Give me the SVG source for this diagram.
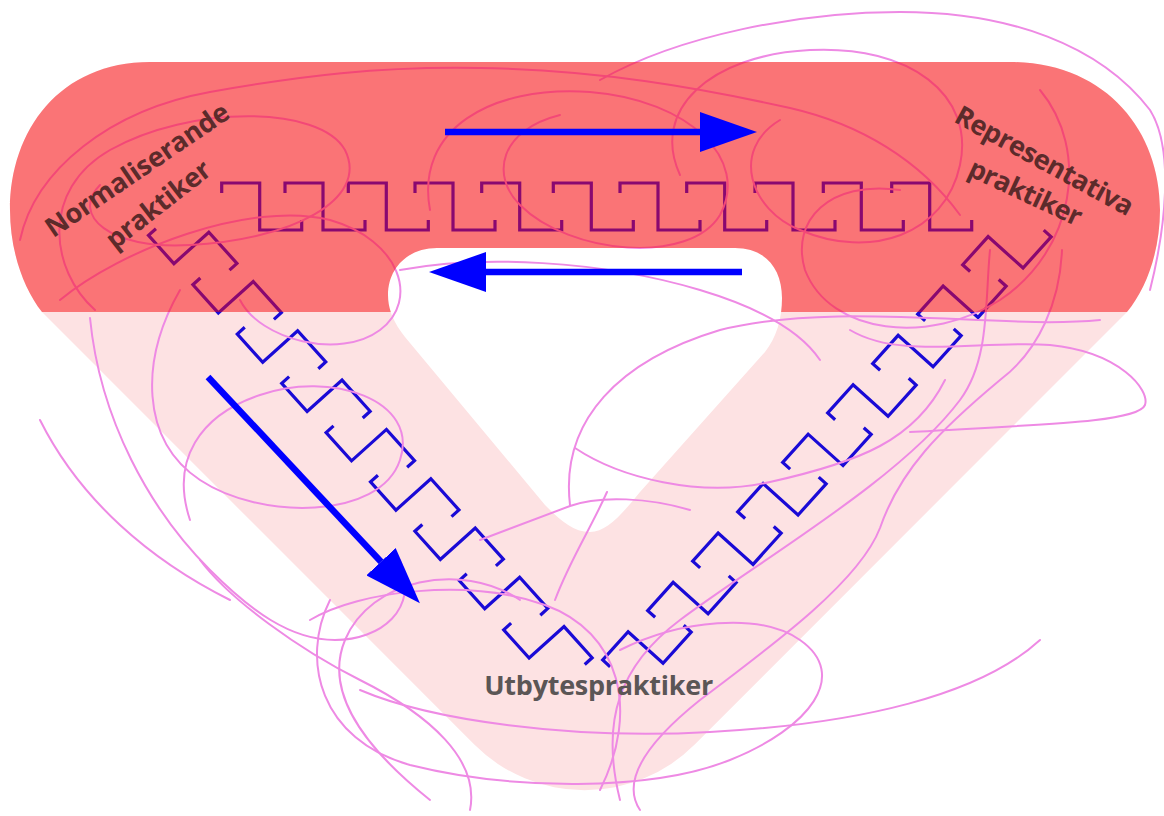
<svg xmlns="http://www.w3.org/2000/svg" xmlns:xlink="http://www.w3.org/1999/xlink" width="1164" height="816" viewBox="0 0 1164 816">
  <style>
    .mq{fill:none;stroke:#1a0ad6;stroke-width:3.2;stroke-linejoin:miter}
    .scr{fill:none;stroke:#ee8ae4;stroke-width:2;stroke-linecap:round}
    .arw{fill:none;stroke:#0000ff;stroke-width:6.5}
    .lbl{font-family:"Open Sans","DejaVu Sans",sans-serif;font-weight:700;font-size:27px;text-anchor:middle}
    .top{fill:#5c2b2b}
    .bot{fill:#5b5656}
  </style>
  <defs>
    <!-- rounded triangular band with its inner opening -->
    <path id="band" fill-rule="evenodd" d="M150 62 H1010 C1105 62 1160 130 1160 210 C1160 250 1147 288 1127 312 L694.7 744.5 A155.8 155.8 0 0 1 474.3 744.5 L42 312 C23 288 10 250 10 210 C10 130 60 62 150 62 Z M437 248 H735 C765 248 782 268 782 298 C782 320 776 338 765 352 L640 492 C622 514 607 532 590 532 C573 532 560 520 545 505 L405 337 C394 323 388 310 388 295 C388 268 408 248 437 248 Z"/>
    <clipPath id="topClip"><rect x="0" y="0" width="1164" height="312"/></clipPath>
    <!-- one key of the meander -->
    <path id="mu" d="M0 10V0H38V47H80V37"/>
    <marker id="head" markerUnits="userSpaceOnUse" markerWidth="58" markerHeight="40" refX="0" refY="20" orient="auto">
      <path d="M0 0 L57 20 L0 40 Z" fill="#0000ff"/>
    </marker>
  </defs>

  <!-- pale band -->
  <g id="band-base">
    <use href="#band" fill="#fde2e3"/>
  </g>

  <!-- meanders along the three sides -->
  <g id="meanders" class="mq">
    <use href="#mu" transform="translate(221.7 183)"/>
    <use href="#mu" transform="translate(285 183)"/>
    <use href="#mu" transform="translate(348.3 183)"/>
    <use href="#mu" transform="translate(415 183)"/>
    <use href="#mu" transform="translate(481.7 183)"/>
    <use href="#mu" transform="translate(553.3 183)"/>
    <use href="#mu" transform="translate(620 183)"/>
    <use href="#mu" transform="translate(686.7 183)"/>
    <use href="#mu" transform="translate(755 183)"/>
    <use href="#mu" transform="translate(823.3 183)"/>
    <use href="#mu" transform="translate(891.7 183)"/>

    <use href="#mu" transform="matrix(0.669 0.743 0.743 -0.669 148.5 235.4)"/>
    <use href="#mu" transform="matrix(0.669 0.743 0.743 -0.669 192.9 284.7)"/>
    <use href="#mu" transform="matrix(0.669 0.743 0.743 -0.669 237.3 334)"/>
    <use href="#mu" transform="matrix(0.669 0.743 0.743 -0.669 281.7 383.3)"/>
    <use href="#mu" transform="matrix(0.669 0.743 0.743 -0.669 326.1 432.6)"/>
    <use href="#mu" transform="matrix(0.669 0.743 0.743 -0.669 370.5 481.9)"/>
    <use href="#mu" transform="matrix(0.669 0.743 0.743 -0.669 414.9 531.2)"/>
    <use href="#mu" transform="matrix(0.669 0.743 0.743 -0.669 459.3 580.5)"/>
    <use href="#mu" transform="matrix(0.669 0.743 0.743 -0.669 503.7 629.8)"/>

    <use href="#mu" transform="translate(602.7 660) rotate(-48)"/>
    <use href="#mu" transform="translate(647.7 610.6) rotate(-48)"/>
    <use href="#mu" transform="translate(692.7 561.2) rotate(-48)"/>
    <use href="#mu" transform="translate(737.7 511.8) rotate(-48)"/>
    <use href="#mu" transform="translate(782.7 462.4) rotate(-48)"/>
    <use href="#mu" transform="translate(827.7 413) rotate(-48)"/>
    <use href="#mu" transform="translate(872.7 363.6) rotate(-48)"/>
    <use href="#mu" transform="translate(917.7 314.2) rotate(-48)"/>
    <use href="#mu" transform="translate(962.7 264.8) rotate(-48)"/>
  </g>

  <!-- tangled hand-drawn threads -->
  <g id="threads" class="scr">
    <path d="M20 240 C35 170 110 110 210 92 C300 76 380 66 480 68 C600 70 700 88 790 108 C860 124 920 160 960 215"/>
    <path d="M95 310 C50 270 40 190 110 150 C190 105 320 105 345 150 C370 200 290 240 190 245 C110 250 70 215 100 185"/>
    <path d="M60 300 C120 250 250 200 330 220 C400 240 420 300 380 330 C340 360 260 340 240 300"/>
    <path d="M430 210 C415 130 490 85 590 92 C690 100 750 160 720 215 C690 265 570 255 520 205 C490 175 500 130 560 115"/>
    <path d="M600 80 C680 35 800 12 900 12 C1010 12 1100 45 1150 110 C1175 150 1165 230 1150 290"/>
    <path d="M680 175 C650 110 710 55 810 50 C910 45 975 95 960 165 C945 235 870 260 800 230 C750 210 730 150 780 120"/>
    <path d="M1040 90 C1090 150 1075 250 1000 300 C930 345 830 335 805 270 C790 220 830 180 900 190"/>
    <path d="M850 330 C900 360 980 340 1050 345 C1120 352 1150 390 1145 405 C1138 422 1050 424 910 432"/>
    <path d="M1062 250 C1060 300 1040 350 1000 380 C940 430 900 470 880 528 C860 580 780 640 700 700 C650 740 620 780 640 810"/>
    <path d="M990 250 C985 300 990 360 960 400 C900 480 760 560 680 620 C620 665 600 720 620 800"/>
    <path d="M1100 320 C1000 330 840 300 720 330 C620 360 560 420 570 505"/>
    <path d="M90 318 C100 420 150 510 210 570 C250 610 290 640 335 640 C380 640 420 610 400 560"/>
    <path d="M180 290 C140 360 140 440 200 480 C260 520 380 520 400 460 C420 400 330 370 260 395 C200 415 170 460 190 520"/>
    <path d="M330 600 C300 660 320 740 410 765 C510 790 650 792 730 760 C810 728 850 675 800 640 C760 612 680 620 620 650"/>
    <path d="M360 690 C430 720 570 740 710 732 C860 724 980 695 1040 640"/>
    <path d="M310 620 C360 590 470 578 545 605 C620 632 640 710 600 790"/>
    <path d="M430 800 C380 760 320 700 345 640 C370 580 460 560 520 600"/>
    <path d="M575 448 C620 478 700 498 770 482 C860 462 915 440 945 380"/>
    <path d="M200 560 C230 600 300 650 360 680 C430 715 480 760 470 810"/>
    <path d="M40 420 C80 500 150 560 230 600"/>
    <path d="M480 540 L570 506 C600 495 650 498 690 510"/>
    <path d="M607 492 C590 530 570 560 555 600"/>
    <path d="M400 270 C480 255 600 260 700 290 C760 308 800 330 820 360"/>
  </g>

  <!-- strong upper part of the band -->
  <g id="band-top">
    <use href="#band" fill="rgb(247,5,10)" fill-opacity="0.5" clip-path="url(#topClip)"/>
  </g>

  <!-- flow arrows -->
  <g id="connectors" class="arw">
    <line x1="445" y1="132" x2="700" y2="132" marker-end="url(#head)"/>
    <line x1="742" y1="272" x2="486" y2="272" marker-end="url(#head)"/>
    <line x1="208" y1="377" x2="381" y2="561.7" marker-end="url(#head)"/>
  </g>

  <g id="node-normaliserande" class="lbl top">
    <text transform="translate(142.5 177.5) rotate(-34.3)" textLength="216" lengthAdjust="spacing">Normaliserande</text>
    <text transform="translate(164 211.7) rotate(-38)" textLength="125" lengthAdjust="spacing">praktiker</text>
  </g>
  <g id="node-representativa" class="lbl top">
    <text transform="translate(1040 169) rotate(28.6)" textLength="199" lengthAdjust="spacing">Representativa</text>
    <text transform="translate(1021.7 200.8) rotate(25)" textLength="122" lengthAdjust="spacing">praktiker</text>
  </g>
  <g id="node-utbytes" class="lbl bot">
    <text x="598.7" y="695" textLength="229" lengthAdjust="spacing">Utbytespraktiker</text>
  </g>
</svg>
